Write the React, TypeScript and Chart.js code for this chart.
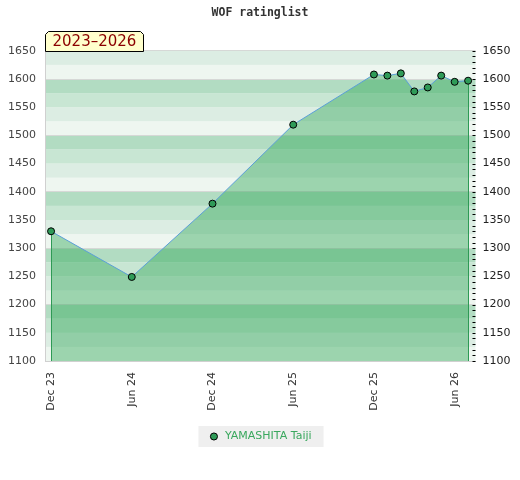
import React, { useEffect, useRef } from "react";
import { Chart, registerables } from "chart.js";

Chart.register(...registerables);

// ---- data ----
const TITLE = "WOF ratinglist";
const PERIOD = "2023–2026";
const PLAYER = "YAMASHITA Taiji";
const monthIndex = [0, 6, 12, 18, 24, 25, 26, 27, 28, 29, 30, 31];
const ratings = [1330, 1249, 1379, 1519, 1608, 1606, 1610, 1578, 1585, 1606, 1595, 1597];
const xTickMonths = [0, 6, 12, 18, 24, 30];
const xTickLabels = ["Dec 23", "Jun 24", "Dec 24", "Jun 25", "Dec 25", "Jun 26"];
const yMin = 1100;
const yMax = 1650;
const yStep = 50;
const xMin = -0.45;
const xMax = 31.55;

// ---- styles ----
const STRIPES = ["#eef6f0", "#dcede3", "#c8e6d3", "#b2dcc2"];
const FONT = "DejaVu Sans";

const stripesPlugin = {
  id: "stripes",
  beforeDraw(chart: any) {
    const { ctx, chartArea } = chart;
    const y = chart.scales.y;
    if (!y || !chartArea) return;
    ctx.save();
    for (let v = yMin; v < yMax; v += 25) {
      const idx = Math.floor((((v % 100) + 100) % 100) / 25);
      const top = y.getPixelForValue(v + 25);
      const bot = y.getPixelForValue(v);
      ctx.fillStyle = STRIPES[idx];
      ctx.fillRect(chartArea.left, top, chartArea.right - chartArea.left, bot - top);
    }
    // legend background
    const lg = chart.legend;
    if (lg && lg.legendHitBoxes && lg.legendHitBoxes.length) {
      const hb = lg.legendHitBoxes[0];
      ctx.fillStyle = "#efefef";
      ctx.fillRect(hb.left - 10, hb.top - 5, hb.width + 22, hb.height + 10);
    }
    ctx.restore();
  },
};

const edgesPlugin = {
  id: "edges",
  beforeDatasetDraw(chart: any, args: any) {
    const meta = chart.getDatasetMeta(args.index);
    const pts = meta.data;
    if (!pts || !pts.length) return;
    const { ctx, chartArea } = chart;
    ctx.save();
    ctx.strokeStyle = "#2e9a55";
    ctx.lineWidth = 1;
    [pts[0], pts[pts.length - 1]].forEach((p: any) => {
      const x = Math.round(p.x) + 0.5;
      ctx.beginPath();
      ctx.moveTo(x, p.y);
      ctx.lineTo(x, chartArea.bottom);
      ctx.stroke();
    });
    ctx.restore();
  },
};

const overlayPlugin = {
  id: "overlay",
  afterDraw(chart: any) {
    const { ctx, chartArea } = chart;
    const y2 = chart.scales.y2;
    ctx.save();
    // minor ticks inside the right edge
    ctx.strokeStyle = "#000";
    ctx.lineWidth = 1;
    for (let v = yMin; v <= yMax; v += 10) {
      const py = Math.round(y2.getPixelForValue(v)) + 0.5;
      ctx.beginPath();
      ctx.moveTo(chartArea.right - 3, py);
      ctx.lineTo(chartArea.right, py);
      ctx.stroke();
    }
    // period tag
    ctx.font = `15px "${FONT}"`;
    const tw = ctx.measureText(PERIOD).width;
    const x0 = Math.round(chartArea.left) + 0.5;
    const y1 = Math.round(chartArea.top) + 0.5;
    const y0 = y1 - 20;
    const w = Math.round(tw + 14);
    const c = 3;
    ctx.beginPath();
    ctx.moveTo(x0, y1);
    ctx.lineTo(x0, y0 + c);
    ctx.lineTo(x0 + c, y0);
    ctx.lineTo(x0 + w - c, y0);
    ctx.lineTo(x0 + w, y0 + c);
    ctx.lineTo(x0 + w, y1);
    ctx.closePath();
    ctx.fillStyle = "#ffffcc";
    ctx.fill();
    ctx.strokeStyle = "#000";
    ctx.stroke();
    ctx.fillStyle = "#8b0000";
    ctx.textBaseline = "middle";
    ctx.textAlign = "left";
    ctx.fillText(PERIOD, x0 + 7, y0 + 10.5);
    ctx.restore();
  },
};

export default function App() {
  const ref = useRef<HTMLCanvasElement>(null);

  useEffect(() => {
    if (!ref.current) return;
    Chart.defaults.font.family = FONT;
    const chart = new Chart(ref.current, {
      type: "line",
      data: {
        datasets: [
          {
            label: PLAYER,
            data: monthIndex.map((m, i) => ({ x: m, y: ratings[i] })),
            borderColor: "#5b9fd8",
            borderWidth: 1,
            pointRadius: 3.5,
            pointBackgroundColor: "#2f9b58",
            pointBorderColor: "#000",
            pointBorderWidth: 1,
            fill: "start",
            backgroundColor: "rgba(44,164,83,0.42)",
            tension: 0,
            yAxisID: "y",
          },
        ],
      },
      options: {
        animation: false,
        responsive: false,
        layout: { padding: { left: 0, right: 0, top: 0, bottom: 28 } },
        scales: {
          x: {
            type: "linear",
            min: xMin,
            max: xMax,
            afterBuildTicks: (s: any) => {
              s.ticks = xTickMonths.map((v) => ({ value: v }));
            },
            afterFit: (s: any) => {
              s.height = 60;
            },
            ticks: {
              autoSkip: false,
              maxRotation: 90,
              minRotation: 90,
              padding: 11,
              color: "#333",
              font: { size: 11 },
              callback: (_v: any, i: number) => xTickLabels[i],
            },
            grid: { display: false, drawTicks: false },
            border: { color: "#d0d0d0" },
          },
          y: {
            position: "left",
            min: yMin,
            max: yMax,
            afterFit: (s: any) => {
              s.width = 45;
            },
            ticks: {
              stepSize: yStep,
              padding: 9,
              color: "#444",
              font: { size: 11 },
              callback: (v: any) => String(v),
            },
            grid: {
              drawTicks: false,
              color: (c: any) =>
                c.tick && (c.tick.value % 100 === 0 || c.tick.value === yMax)
                  ? "#d6d8d6"
                  : "rgba(0,0,0,0)",
            },
            border: { color: "#d0d0d0" },
          },
          y2: {
            position: "right",
            min: yMin,
            max: yMax,
            afterFit: (s: any) => {
              s.width = 44.5;
            },
            ticks: {
              stepSize: yStep,
              padding: 7,
              color: "#222",
              font: { size: 11 },
              callback: (v: any) => String(v),
            },
            grid: { display: false, drawTicks: false },
            border: { display: false },
          },
        },
        plugins: {
          filler: { drawTime: "beforeDatasetsDraw" },
          title: {
            display: true,
            text: TITLE,
            color: "#333",
            font: { family: "DejaVu Sans Mono", size: 11.5, weight: "bold" },
            padding: { top: 6, bottom: 31 },
          },
          legend: {
            position: "bottom",
            labels: {
              usePointStyle: true,
              boxHeight: 5,
              boxWidth: 11,
              padding: 10,
              color: "#3aa85e",
              font: { size: 11 },
            },
          },
          tooltip: { enabled: false },
        },
      } as any,
      plugins: [stripesPlugin, edgesPlugin, overlayPlugin],
    });
    return () => chart.destroy();
  }, []);

  return (
    <div style={{ position: "fixed", left: 0, top: 0, width: 520, height: 480, background: "#fff" }}>
      <canvas ref={ref} width={520} height={480} />
    </div>
  );
}
